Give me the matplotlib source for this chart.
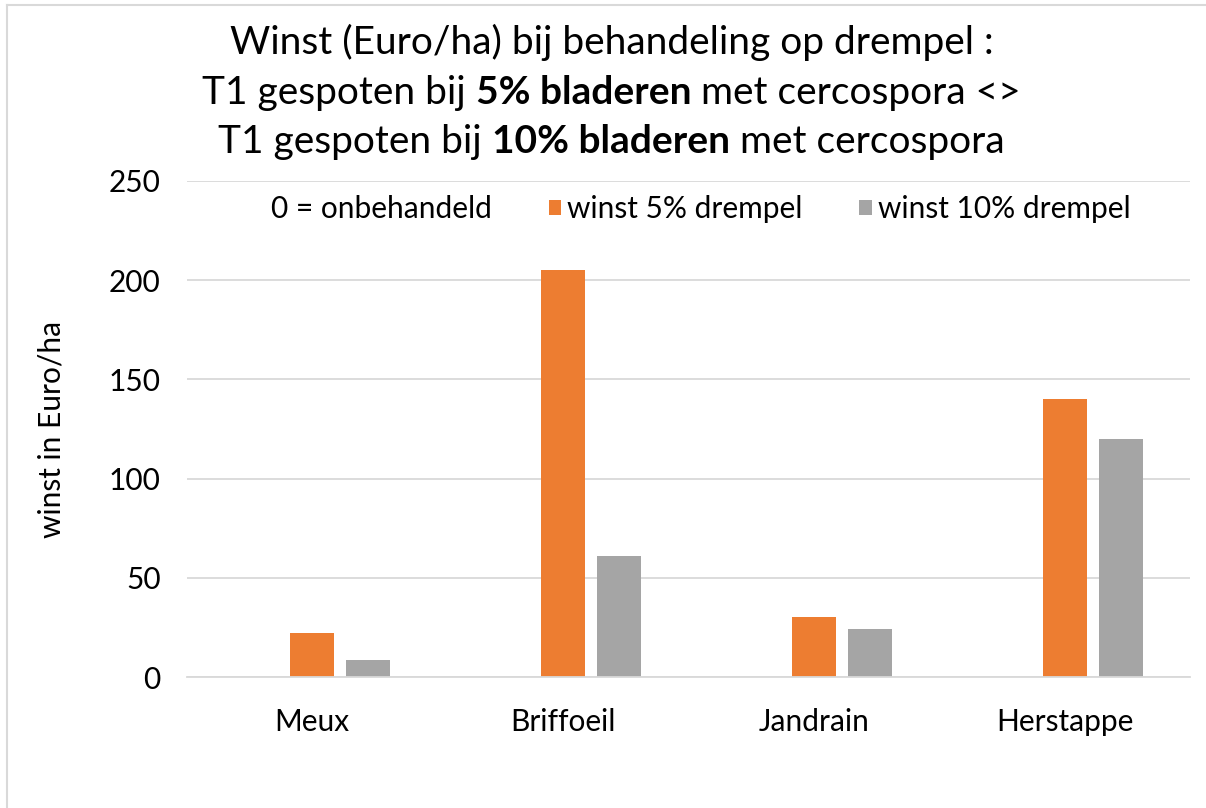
import matplotlib.pyplot as plt
import numpy as np
from matplotlib.patches import Patch
from matplotlib.lines import Line2D
from matplotlib.offsetbox import TextArea, HPacker, VPacker, AnchoredOffsetbox

plt.rcParams['font.family'] = ['Lato', 'DejaVu Sans']

locations = ["Meux", "Briffoeil", "Jandrain", "Herstappe"]
untreated = [0, 0, 0, 0]
gain_5pct = [22, 205, 30, 140]
gain_10pct = [8.5, 61, 24, 120]
series_names = ["0 = onbehandeld", "winst 5% drempel", "winst 10% drempel"]

ORANGE = "#ED7D31"
GREY = "#A5A5A5"
GRID = "#D9D9D9"


def plotChart():
    fig = plt.figure(figsize=(12.06, 8.08), dpi=100)
    ax = fig.add_axes([0.155, 0.1621, 0.8317, 0.6139])

    x = np.arange(len(locations))
    w = 0.1755
    step = w + 12 / 250.75
    ax.bar(x - step, untreated, w, color="none")
    ax.bar(x, gain_5pct, w, color=ORANGE)
    ax.bar(x + step, gain_10pct, w, color=GREY)

    ax.set_xlim(-0.5, len(locations) - 0.5)
    ax.set_ylim(0, 250)
    ax.set_yticks(range(0, 251, 50))
    ax.set_xticks(x)
    ax.set_xticklabels(locations)
    ax.yaxis.grid(True, color=GRID, linewidth=1.3)
    ax.set_axisbelow(True)
    for s in ["top", "right", "left"]:
        ax.spines[s].set_visible(False)
    ax.spines["bottom"].set_color(GRID)
    ax.spines["bottom"].set_linewidth(1.3)
    ax.tick_params(axis="both", length=0, labelsize=21.5)
    ax.tick_params(axis="y", pad=19)
    ax.tick_params(axis="x", pad=22)
    ax.set_ylabel("winst in Euro/ha", fontsize=21.5, labelpad=31)

    handles = [Patch(facecolor="none", edgecolor="none"),
               Patch(facecolor=ORANGE), Patch(facecolor=GREY)]
    ax.legend(handles, series_names, ncol=3, frameon=False, fontsize=21.5,
              loc="upper center", bbox_to_anchor=(0.503, 1.026),
              handlelength=0.42, handleheight=0.42, handletextpad=0.2,
              columnspacing=1.9)

    # title with bold parts
    fs = 28
    def seg(t, bold=False):
        return TextArea(t, textprops=dict(fontsize=fs, fontweight="bold" if bold else "normal"))
    line1 = HPacker(children=[seg("Winst (Euro/ha) bij behandeling op drempel :")], pad=0, sep=0)
    line2 = HPacker(children=[seg("T1 gespoten bij "), seg("5% bladeren", True),
                              seg(" met cercospora <>")], pad=0, sep=0, align="baseline")
    line3 = HPacker(children=[seg("T1 gespoten bij "), seg("10% bladeren", True),
                              seg(" met cercospora")], pad=0, sep=0, align="baseline")
    title = VPacker(children=[line1, line2, line3], pad=0, sep=9.5, align="center")
    box = AnchoredOffsetbox(loc="upper center", child=title, frameon=False,
                            bbox_to_anchor=(0.507, 0.97), bbox_transform=fig.transFigure,
                            borderpad=0, pad=0)
    fig.add_artist(box)

    # chart area border (top and left visible)
    fig.add_artist(Line2D([0.0058, 1.0], [0.9944, 0.9944], color=GRID, linewidth=1.5,
                          transform=fig.transFigure))
    fig.add_artist(Line2D([0.0058, 0.0058], [0.0, 0.9944], color=GRID, linewidth=1.5,
                          transform=fig.transFigure))

    fig.savefig("out.png", dpi=100)


def main():
    plotChart()


if __name__ == "__main__":
    main()
